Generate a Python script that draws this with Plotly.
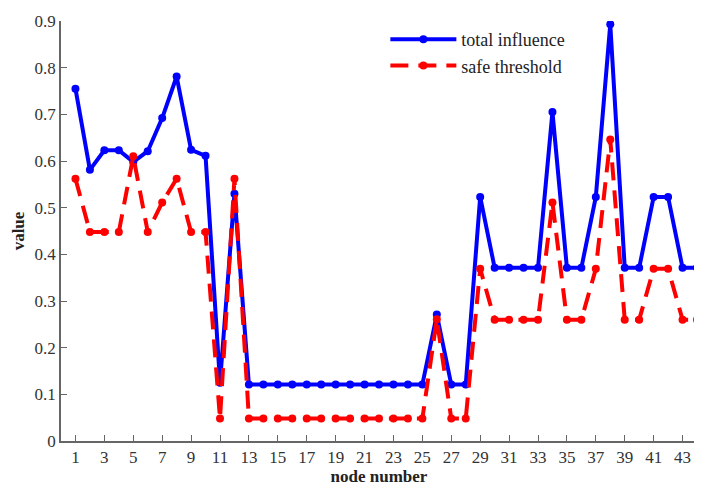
import plotly.graph_objects as go

nodes = list(range(1, 45))
total_influence = [0.755, 0.581, 0.623, 0.623, 0.598, 0.621, 0.692, 0.781, 0.624, 0.611,
                   0.125, 0.530,
                   0.121, 0.121, 0.121, 0.121, 0.121, 0.121, 0.121, 0.121, 0.121, 0.121, 0.121, 0.121, 0.121,
                   0.271, 0.121, 0.121,
                   0.523, 0.371, 0.371, 0.371, 0.371, 0.705, 0.371, 0.371, 0.523, 0.893,
                   0.371, 0.371, 0.523, 0.523, 0.371, 0.371]
safe_threshold = [0.562, 0.448, 0.448, 0.448, 0.610, 0.448, 0.511, 0.562, 0.448, 0.448,
                  0.048, 0.562,
                  0.048, 0.048, 0.048, 0.048, 0.048, 0.048, 0.048, 0.048, 0.048, 0.048, 0.048, 0.048, 0.048,
                  0.261, 0.048, 0.048,
                  0.369, 0.260, 0.260, 0.260, 0.260, 0.511, 0.260, 0.260, 0.369, 0.646,
                  0.260, 0.260, 0.369, 0.369, 0.260, 0.260]
x_ticks = list(range(1, 44, 2))
y_ticks = [0, 0.1, 0.2, 0.3, 0.4, 0.5, 0.6, 0.7, 0.8, 0.9]
y_tick_text = ["0", "0.1", "0.2", "0.3", "0.4", "0.5", "0.6", "0.7", "0.8", "0.9"]

FONT = "Liberation Serif"

fig = go.Figure()
fig.add_trace(go.Scatter(
    x=nodes, y=total_influence, mode="lines+markers", name="total influence",
    line=dict(color="#0000FF", width=4),
    marker=dict(color="#0000FF", size=8),
))
fig.add_trace(go.Scatter(
    x=nodes, y=safe_threshold, mode="lines+markers", name="safe threshold",
    line=dict(color="#FF0000", width=4, dash="18px,10px"),
    marker=dict(color="#FF0000", size=8),
))

# page body has an 8px default margin: size and margins compensate for it
fig.update_layout(
    width=694, height=478,
    margin=dict(l=53, r=5, t=13, b=45),
    paper_bgcolor="white", plot_bgcolor="white",
    font=dict(family=FONT, size=17, color="#333333"),
    legend=dict(x=0.51, y=1.0, xanchor="left", yanchor="top",
                bgcolor="rgba(0,0,0,0)", itemwidth=66,
                font=dict(family=FONT, size=18, color="#222222"),
                tracegroupgap=0),
    showlegend=True,
)
fig.update_xaxes(
    range=[0, 44], tickvals=x_ticks, ticks="inside", ticklen=6, tickcolor="#666666",
    showline=True, linecolor="#666666", linewidth=1.5, showgrid=False, zeroline=False,
    automargin=False,
    title=dict(text="<b>node number</b>", font=dict(family=FONT, size=17, color="#222222"), standoff=2),
    tickfont=dict(family=FONT, size=17, color="#333333"),
)
fig.update_yaxes(
    range=[0, 0.9], tickvals=y_ticks, ticktext=y_tick_text, ticks="inside", ticklen=6, tickcolor="#666666",
    showline=True, linecolor="#666666", linewidth=1.5, showgrid=False, zeroline=False,
    automargin=False,
    title=dict(text="<b>value</b>", font=dict(family=FONT, size=17, color="#222222"), standoff=6),
    tickfont=dict(family=FONT, size=17, color="#333333"),
)

fig.write_html("out.html")
